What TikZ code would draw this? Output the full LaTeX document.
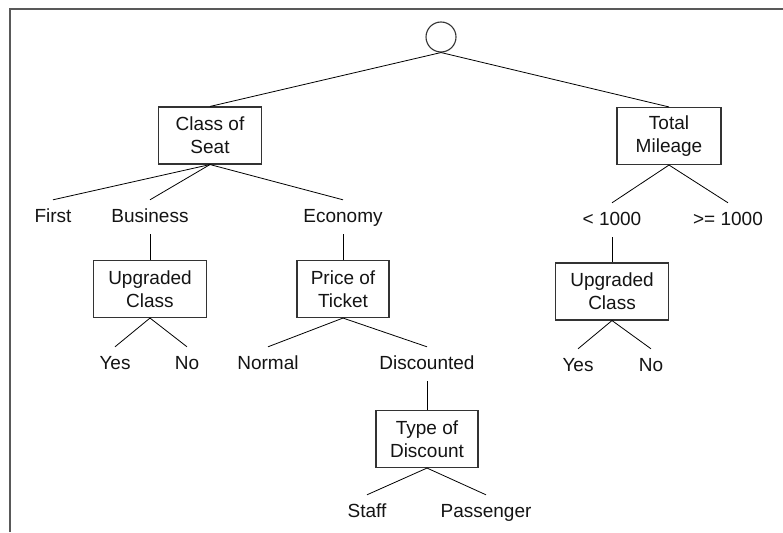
\documentclass[tikz,border=0pt]{standalone}
\usepackage{fontspec}
\setmainfont{Liberation Sans}
\begin{document}
\begin{tikzpicture}[x=1pt,y=-1pt,
  every node/.style={font=\fontsize{19}{23}\selectfont, text=black!92},
  box/.style={draw=black!80, line width=1.1pt, align=center, inner sep=0pt, minimum height=57pt},
  lbl/.style={inner sep=0pt, text height=14pt, text depth=4pt, minimum height=34pt, anchor=base},
  conn/.style={draw=black, line width=0.8pt}]
\useasboundingbox (0,0) rectangle (783,532);
\fill[white] (0,0) rectangle (783,532);
\draw[black!65, line width=2pt] (9.5,532) -- (9.5,9) -- (783,9);

% decision nodes
\node[circle, draw=black!80, line width=1.1pt, minimum size=30pt, inner sep=0pt] (root) at (441,37) {};
\node[box, minimum width=103pt] (cos) at (210,135.5) {Class of\\Seat};
\node[box, minimum width=104pt] (tm) at (669,136) {Total\\Mileage};
\node[box, minimum width=113pt] (upl) at (150,289) {Upgraded\\Class};
\node[box, minimum width=92pt] (pot) at (343,289) {Price of\\Ticket};
\node[box, minimum width=113pt] (upr) at (612,291.5) {Upgraded\\Class};
\node[box, minimum width=102pt] (tod) at (427,439) {Type of\\Discount};

% labels
\node[lbl] (first) at (53,222) {First};
\node[lbl] (business) at (150,222) {Business};
\node[lbl] (economy) at (343,222) {Economy};
\node[lbl] (lt) at (612,225) {< 1000};
\node[lbl] (ge) at (728,225) {>= 1000};
\node[lbl] (yesl) at (115,369) {Yes};
\node[lbl] (nol) at (187,369) {No};
\node[lbl] (normal) at (268,369) {Normal};
\node[lbl] (disc) at (427,369) {Discounted};
\node[lbl] (yesr) at (578,371) {Yes};
\node[lbl] (nor) at (651,371) {No};
\node[lbl] (staff) at (367,517) {Staff};
\node[lbl] (pass) at (486,517) {Passenger};

% connectors
\draw[conn] (root.south) -- (cos.north);
\draw[conn] (root.south) -- (tm.north);
\draw[conn] (cos.south) -- (first.north);
\draw[conn] (cos.south) -- (business.north);
\draw[conn] (cos.south) -- (economy.north);
\draw[conn] (business.south) -- (upl.north);
\draw[conn] (economy.south) -- (pot.north);
\draw[conn] (upl.south) -- (yesl.north);
\draw[conn] (upl.south) -- (nol.north);
\draw[conn] (pot.south) -- (normal.north);
\draw[conn] (pot.south) -- (disc.north);
\draw[conn] (disc.south) -- (tod.north);
\draw[conn] (tod.south) -- (staff.north);
\draw[conn] (tod.south) -- (pass.north);
\draw[conn] (tm.south) -- (lt.north);
\draw[conn] (tm.south) -- (ge.north);
\draw[conn] (lt.south) -- (upr.north);
\draw[conn] (upr.south) -- (yesr.north);
\draw[conn] (upr.south) -- (nor.north);
\end{tikzpicture}
\end{document}
